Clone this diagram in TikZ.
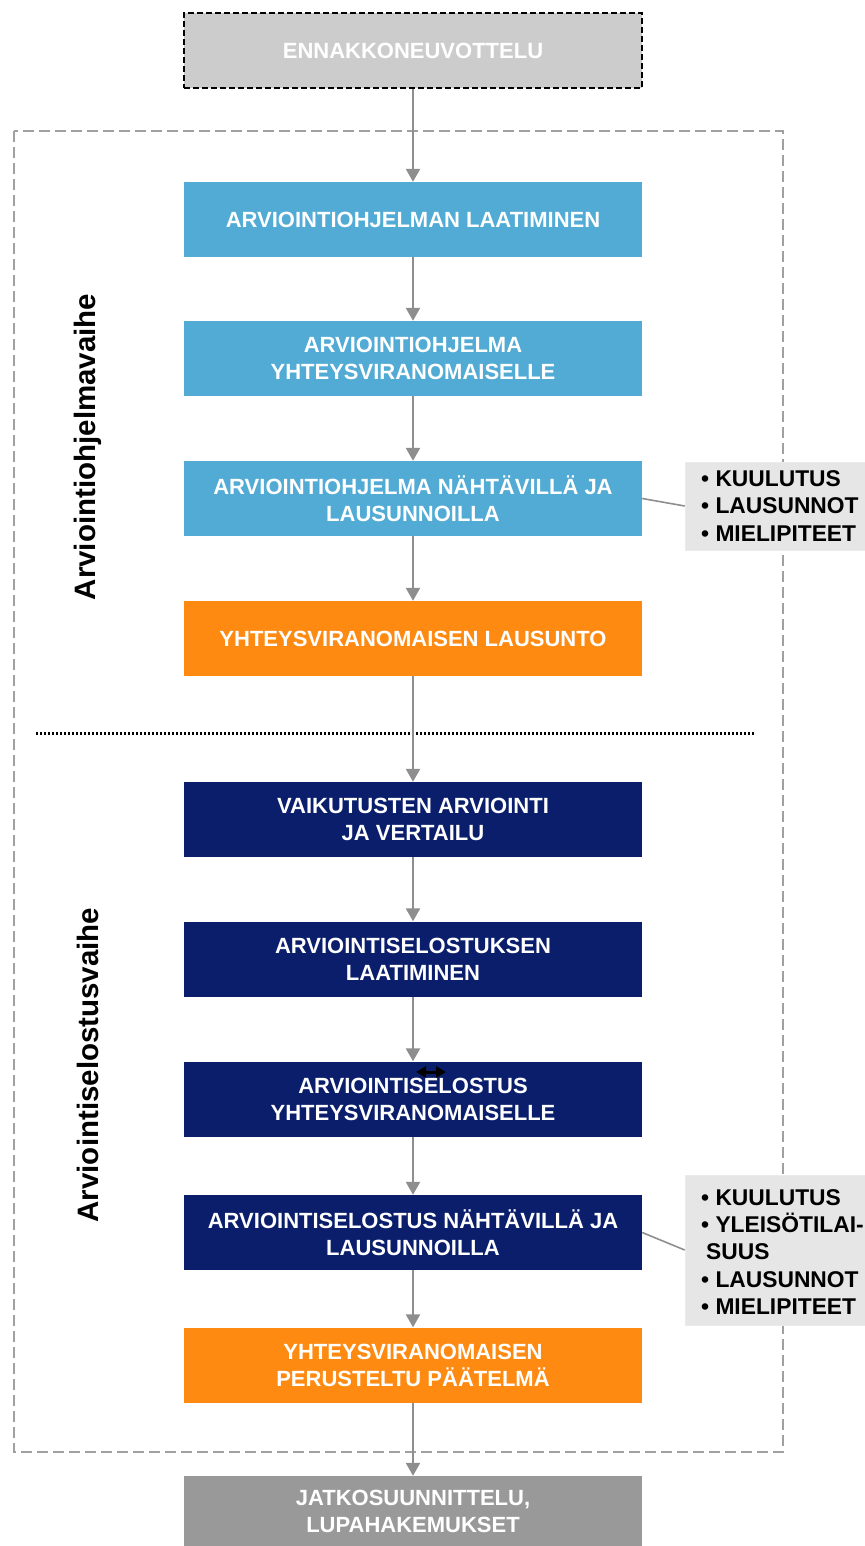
\documentclass[tikz,border=0pt]{standalone}
\usepackage{fontspec}
\setmainfont{Liberation Sans}
\usetikzlibrary{arrows.meta}
\definecolor{lblue}{HTML}{52ABD5}
\definecolor{navy}{HTML}{0A1E6C}
\definecolor{orng}{HTML}{FE8A12}
\definecolor{topgray}{HTML}{CCCCCC}
\definecolor{botgray}{HTML}{999999}
\definecolor{sidegray}{HTML}{E6E6E6}
\definecolor{linegray}{HTML}{8E8E8E}
\definecolor{framegray}{HTML}{A0A0A0}
\begin{document}
\begin{tikzpicture}[x=1pt,y=-1pt,
  box/.style={minimum width=458pt, minimum height=75pt, inner sep=0pt, text=white,
    font=\fontsize{22}{27}\selectfont\bfseries, align=center},
  bluebox/.style={box, fill=lblue},
  navybox/.style={box, fill=navy},
  orangebox/.style={box, fill=orng},
  sidebox/.style={fill=sidegray, draw=white!92!black, line width=0.6pt, inner sep=0pt},
  sidetext/.style={anchor=west, align=left, text=black, inner sep=0pt,
    font=\fontsize{22.8}{27.3}\selectfont\bfseries},
  flow/.style={draw=linegray, line width=2.4pt, -{Triangle[width=14pt,length=13pt]}},
  link/.style={draw=linegray, line width=1.6pt},
  phase/.style={rotate=90, font=\fontsize{29.5}{34}\selectfont\bfseries, text=black, inner sep=0pt}
]
\useasboundingbox (0,0) rectangle (864,1546);
\fill[white] (0,0) rectangle (864,1546);

% outer dashed frame
\draw[framegray, line width=2.8pt, dash pattern=on 11pt off 5pt] (14,131) rectangle (783,1452);
% dotted separator
\draw[black, line width=3pt, dash pattern=on 2pt off 2pt] (36,733) -- (755,733);

% top box
\node[box, fill=topgray, draw=black, line width=2pt, dash pattern=on 6pt off 3pt] (pre) at (413,50.5) {ENNAKKONEUVOTTELU};

% programme phase
\node[bluebox] (b1) at (413,219.5) {ARVIOINTIOHJELMAN LAATIMINEN};
\node[bluebox] (b2) at (413,358.5) {ARVIOINTIOHJELMA\\YHTEYSVIRANOMAISELLE};
\node[bluebox] (b3) at (413,498.5) {ARVIOINTIOHJELMA NÄHTÄVILLÄ JA\\LAUSUNNOILLA};
\node[orangebox] (o1) at (413,638.5) {YHTEYSVIRANOMAISEN LAUSUNTO};

% report phase
\node[navybox] (n1) at (413,819.5) {VAIKUTUSTEN ARVIOINTI\\JA VERTAILU};
\node[navybox] (n2) at (413,959) {ARVIOINTISELOSTUKSEN\\LAATIMINEN};
\node[navybox] (n3) at (413,1099) {ARVIOINTISELOSTUS\\YHTEYSVIRANOMAISELLE};
\node[navybox] (n4) at (413,1232.5) {ARVIOINTISELOSTUS NÄHTÄVILLÄ JA\\LAUSUNNOILLA};
\node[orangebox] (o2) at (413,1365) {YHTEYSVIRANOMAISEN\\PERUSTELTU PÄÄTELMÄ};

% final box
\node[box, fill=botgray, minimum height=70pt] (fin) at (413,1511) {JATKOSUUNNITTELU,\\LUPAHAKEMUKSET};

% phase labels
\node[phase] (ph1) at (88,447) {Arviointiohjelmavaihe};
\node[phase] (ph2) at (88,1065) {Arviointiselostusvaihe};

% flow arrows
\draw[flow] (pre) -- (b1);
\draw[flow] (b1) -- (b2);
\draw[flow] (b2) -- (b3);
\draw[flow] (b3) -- (o1);
\draw[flow] (o1) -- (n1);
\draw[flow] (n1) -- (n2);
\draw[flow] (n2) -- (n3);
\draw[flow] (n3) -- (n4);
\draw[flow] (n4) -- (o2);
\draw[flow] (o2) -- (fin);

% side boxes
\node[sidebox, minimum width=181pt, minimum height=88pt] (s1) at (775.5,506) {};
\node[sidetext] (s1t) at (701,506) {• KUULUTUS\\• LAUSUNNOT\\• MIELIPITEET};
\node[sidebox, minimum width=181pt, minimum height=150pt] (s2) at (775.5,1250) {};
\node[sidetext] (s2t) at (701,1252) {• KUULUTUS\\• YLEISÖTILAI-\\\hspace*{5pt}SUUS\\• LAUSUNNOT\\• MIELIPITEET};

\draw[link] (b3.east) -- (s1.west);
\draw[link] (n4.east) -- (s2.west);

% small double-headed cursor mark
\coordinate (cl) at (416,1072);
\coordinate (cr) at (446,1072);
\draw[black, line width=3pt, {Triangle[width=11pt,length=10pt]}-{Triangle[width=11pt,length=10pt]}] (cl) -- (cr);
\end{tikzpicture}
\end{document}
